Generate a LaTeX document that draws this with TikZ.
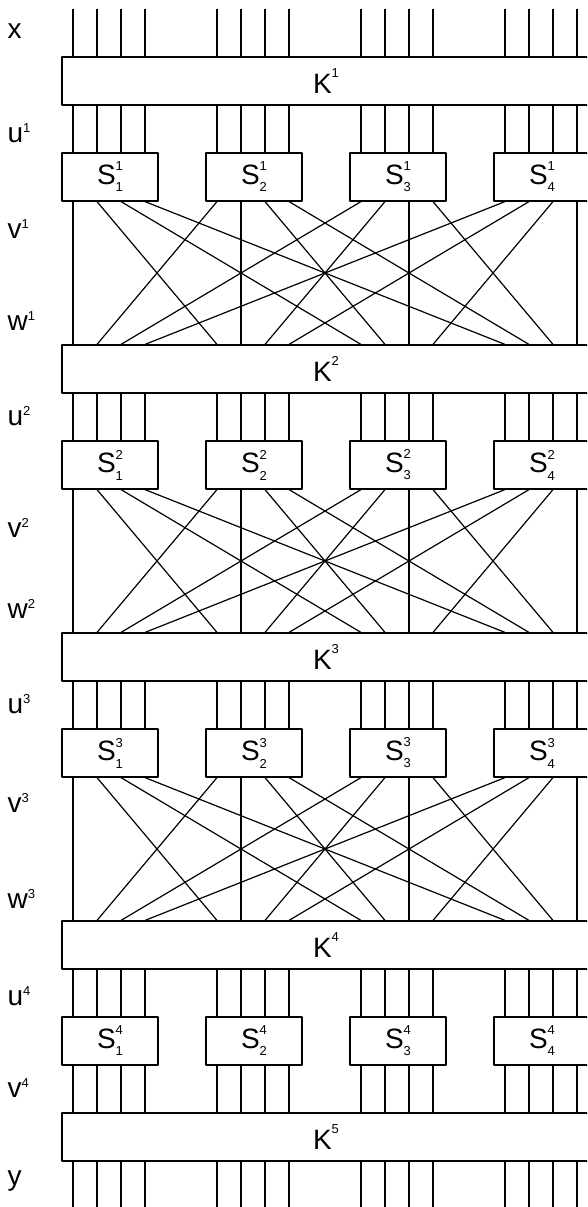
\documentclass[tikz,border=0pt]{standalone}
\usepackage{fontspec}
\setmainfont{Liberation Sans}
\newcommand\smallfig{\fontsize{13}{13}\selectfont}
\newcommand\lb[2]{#1\raisebox{.35em}{\smallfig#2}}
\newcommand\sname[2]{S\rlap{\raisebox{.47em}{\smallfig#1}}\raisebox{-.28em}{\smallfig#2}}
\newcommand\kname[1]{K\raisebox{.55em}{\smallfig#1}}
\begin{document}
\begin{tikzpicture}[x=1pt,y=-1pt,line width=1.2pt,line join=round,font=\fontsize{28}{28}\selectfont,
	kbox/.style={draw,fill=white,minimum width=528pt,minimum height=48pt,inner sep=0pt},
	sbox/.style={draw,fill=white,minimum width=96pt,minimum height=48pt,inner sep=0pt},
	lab/.style={anchor=base west,inner sep=0pt}]
	\useasboundingbox (0,0) rectangle (587,1207);
	\clip (0,0) rectangle (587,1207);
	\path (0,9) coordinate (xtop) (0,1207) coordinate (ybot);
	\foreach \i in {1,...,4}
		{\foreach \j in {1,...,4}
			\path (73+144*\i-144+24*\j-24,0) coordinate (w\i\j);}
	% key mixing boxes
	\foreach \r/\y in {1/81,2/369,3/657,4/945,5/1137}
		\node[kbox] (K\r) at (326,\y) {\kname{\r}};
	% substitution boxes
	\foreach \r/\y in {1/177,2/465,3/753,4/1041}
		{\foreach \i in {1,...,4}
			\node[sbox] (S\r\i) at (110+144*\i-144,\y) {\sname{\r}{\i}};}
	% wires and permutation
	\foreach \i in {1,...,4}
		{\foreach \j in {1,...,4}
			{\draw (xtop -| w\i\j)--(K1.north -| w\i\j);
			\draw (K5.south -| w\i\j)--(ybot -| w\i\j);
			\draw (S4\i.south -| w\i\j)--(K5.north -| w\i\j);
			\foreach \r in {1,...,4}
				\draw (K\r.south -| w\i\j)--(S\r\i.north -| w\i\j);
			\foreach \r/\n in {1/2,2/3,3/4}
				\draw (S\r\i.south -| w\i\j)--(K\n.north -| w\j\i);}}
	% row labels
	\foreach \n/\t/\y in {x/x/39,u1/\lb{u}{1}/142,v1/\lb{v}{1}/238,w1/\lb{w}{1}/330,
		u2/\lb{u}{2}/425,v2/\lb{v}{2}/537,w2/\lb{w}{2}/618,
		u3/\lb{u}{3}/713,v3/\lb{v}{3}/812,w3/\lb{w}{3}/908,
		u4/\lb{u}{4}/1005,v4/\lb{v}{4}/1097,y/y/1185}
		\node[lab] (l\n) at (7,\y) {\t};
\end{tikzpicture}
\end{document}
